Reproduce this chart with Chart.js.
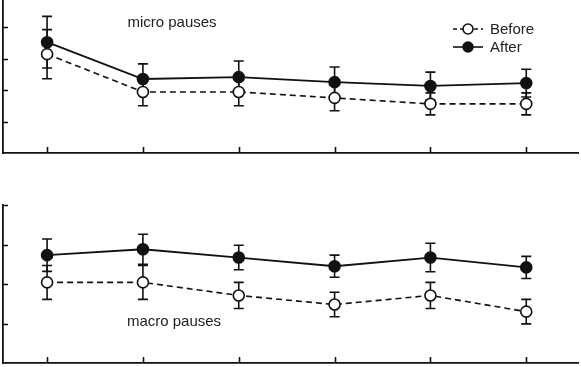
<!DOCTYPE html>
<html>
<head>
<meta charset="utf-8">
<script src="https://cdn.jsdelivr.net/npm/chart.js@4.4.1/dist/chart.umd.min.js"></script>
<style>
  html, body { margin: 0; padding: 0; background: #fff; }
  #wrap { position: relative; width: 581px; height: 367px; overflow: hidden; }
  canvas { position: absolute; left: 0; }
</style>
</head>
<body>
<div id="wrap">
  <canvas id="microChart" width="581" height="160" style="top:0"></canvas>
  <canvas id="macroChart" width="581" height="197" style="top:170px"></canvas>
</div>
<script>
// sessions and tick positions
const sessions = [1, 2, 3, 4, 5, 6];
const yTicks = [1, 2, 3, 4];

// micro pauses (mean, error)
const microBefore = [3.14, 1.94, 1.94, 1.75, 1.56, 1.56];
const microBeforeErr = [0.78, 0.44, 0.44, 0.41, 0.35, 0.35];
const microAfter = [3.52, 2.35, 2.41, 2.25, 2.13, 2.22];
const microAfterErr = [0.82, 0.48, 0.51, 0.48, 0.44, 0.44];

// macro pauses (mean, error)
const macroBefore = [2.04, 2.04, 1.71, 1.48, 1.71, 1.30];
const macroBeforeErr = [0.43, 0.43, 0.33, 0.31, 0.33, 0.31];
const macroAfter = [2.73, 2.88, 2.67, 2.45, 2.67, 2.42];
const macroAfterErr = [0.41, 0.38, 0.31, 0.28, 0.36, 0.28];

const INK = '#111';
const FONT = '15px "Liberation Sans", Arial, sans-serif';

// error bars, drawn under the markers
const errorBarPlugin = {
    id: 'errorBars',
    beforeDatasetsDraw(chart) {
        const ctx = chart.ctx;
        const xs = chart.scales.x, ys = chart.scales.y;
        ctx.save();
        ctx.strokeStyle = INK;
        ctx.lineWidth = 1.6;
        chart.data.datasets.forEach(ds => {
            ds.data.forEach((p, i) => {
                const e = ds.errors[i];
                const x = xs.getPixelForValue(p.x);
                const y1 = ys.getPixelForValue(p.y + e);
                const y2 = ys.getPixelForValue(p.y - e);
                ctx.beginPath();
                ctx.moveTo(x, y1); ctx.lineTo(x, y2);
                ctx.moveTo(x - 5, y1); ctx.lineTo(x + 5, y1);
                ctx.moveTo(x - 5, y2); ctx.lineTo(x + 5, y2);
                ctx.stroke();
            });
        });
        ctx.restore();
    }
};

// inward tick marks, label text and legend
const decorPlugin = {
    id: 'decor',
    afterDraw(chart, args, opts) {
        const ctx = chart.ctx;
        const xs = chart.scales.x, ys = chart.scales.y;
        const area = chart.chartArea;
        ctx.save();
        ctx.strokeStyle = INK;
        ctx.lineWidth = 1.6;
        ctx.beginPath();
        sessions.forEach(s => {
            const x = Math.round(xs.getPixelForValue(s)) + 0.5;
            ctx.moveTo(x, area.bottom); ctx.lineTo(x, area.bottom - 6);
        });
        yTicks.forEach(t => {
            const y = Math.round(ys.getPixelForValue(t)) + 0.5;
            ctx.moveTo(area.left, y); ctx.lineTo(area.left + 5, y);
        });
        ctx.stroke();

        ctx.fillStyle = '#222';
        ctx.font = FONT;
        ctx.textAlign = 'center';
        ctx.textBaseline = 'middle';
        ctx.fillText(opts.title, opts.titleX, opts.titleY);

        if (opts.legend) {
            const rows = [
                { label: 'Before', y: 29, dash: [4, 3], fill: '#fff' },
                { label: 'After', y: 47, dash: [], fill: INK }
            ];
            rows.forEach(r => {
                ctx.setLineDash(r.dash);
                ctx.beginPath();
                ctx.moveTo(453, r.y); ctx.lineTo(483, r.y);
                ctx.stroke();
                ctx.setLineDash([]);
                ctx.beginPath();
                ctx.arc(468, r.y, 5, 0, Math.PI * 2);
                ctx.fillStyle = r.fill;
                ctx.fill();
                ctx.stroke();
                ctx.fillStyle = '#222';
                ctx.textAlign = 'left';
                ctx.fillText(r.label, 490, r.y + 1);
            });
        }
        ctx.restore();
    }
};

function pts(vals) {
    return vals.map((v, i) => ({ x: sessions[i], y: v }));
}

function makeChart(id, before, beforeErr, after, afterErr, yMax, padding, decor) {
    const ctx = document.getElementById(id).getContext('2d');
    return new Chart(ctx, {
        type: 'line',
        data: {
            datasets: [
                {
                    label: 'Before',
                    data: pts(before),
                    errors: beforeErr,
                    borderColor: INK,
                    borderWidth: 1.6,
                    borderDash: [6, 4],
                    pointRadius: 5.5,
                    pointBorderWidth: 1.6,
                    pointBackgroundColor: '#fff',
                    pointBorderColor: INK,
                    tension: 0
                },
                {
                    label: 'After',
                    data: pts(after),
                    errors: afterErr,
                    borderColor: INK,
                    borderWidth: 1.8,
                    pointRadius: 5.5,
                    pointBorderWidth: 1.6,
                    pointBackgroundColor: INK,
                    pointBorderColor: INK,
                    tension: 0
                }
            ]
        },
        options: {
            responsive: false,
            animation: false,
            devicePixelRatio: 1,
            layout: { padding: padding, autoPadding: false },
            scales: {
                x: {
                    type: 'linear',
                    min: 0.54,
                    max: 6.54,
                    ticks: { display: false },
                    grid: { display: false, drawTicks: false },
                    border: { display: true, color: INK, width: 1.8 }
                },
                y: {
                    min: 0,
                    max: yMax,
                    ticks: { display: false },
                    grid: { display: false, drawTicks: false },
                    border: { display: true, color: INK, width: 1.8 }
                }
            },
            plugins: {
                legend: { display: false },
                tooltip: { enabled: false },
                decor: decor
            }
        },
        plugins: [errorBarPlugin, decorPlugin]
    });
}

document.addEventListener('DOMContentLoaded', function() {
    window.microChart = makeChart('microChart', microBefore, microBeforeErr, microAfter, microAfterErr,
        4.86, { left: 3, right: 3, top: 0, bottom: 7 },
        { title: 'micro pauses', titleX: 172, titleY: 23, legend: true });
    window.macroChart = makeChart('macroChart', macroBefore, macroBeforeErr, macroAfter, macroAfterErr,
        4, { left: 3, right: 3, top: 35, bottom: 4 },
        { title: 'macro pauses', titleX: 174, titleY: 152, legend: false });
});
</script>
</body>
</html>
